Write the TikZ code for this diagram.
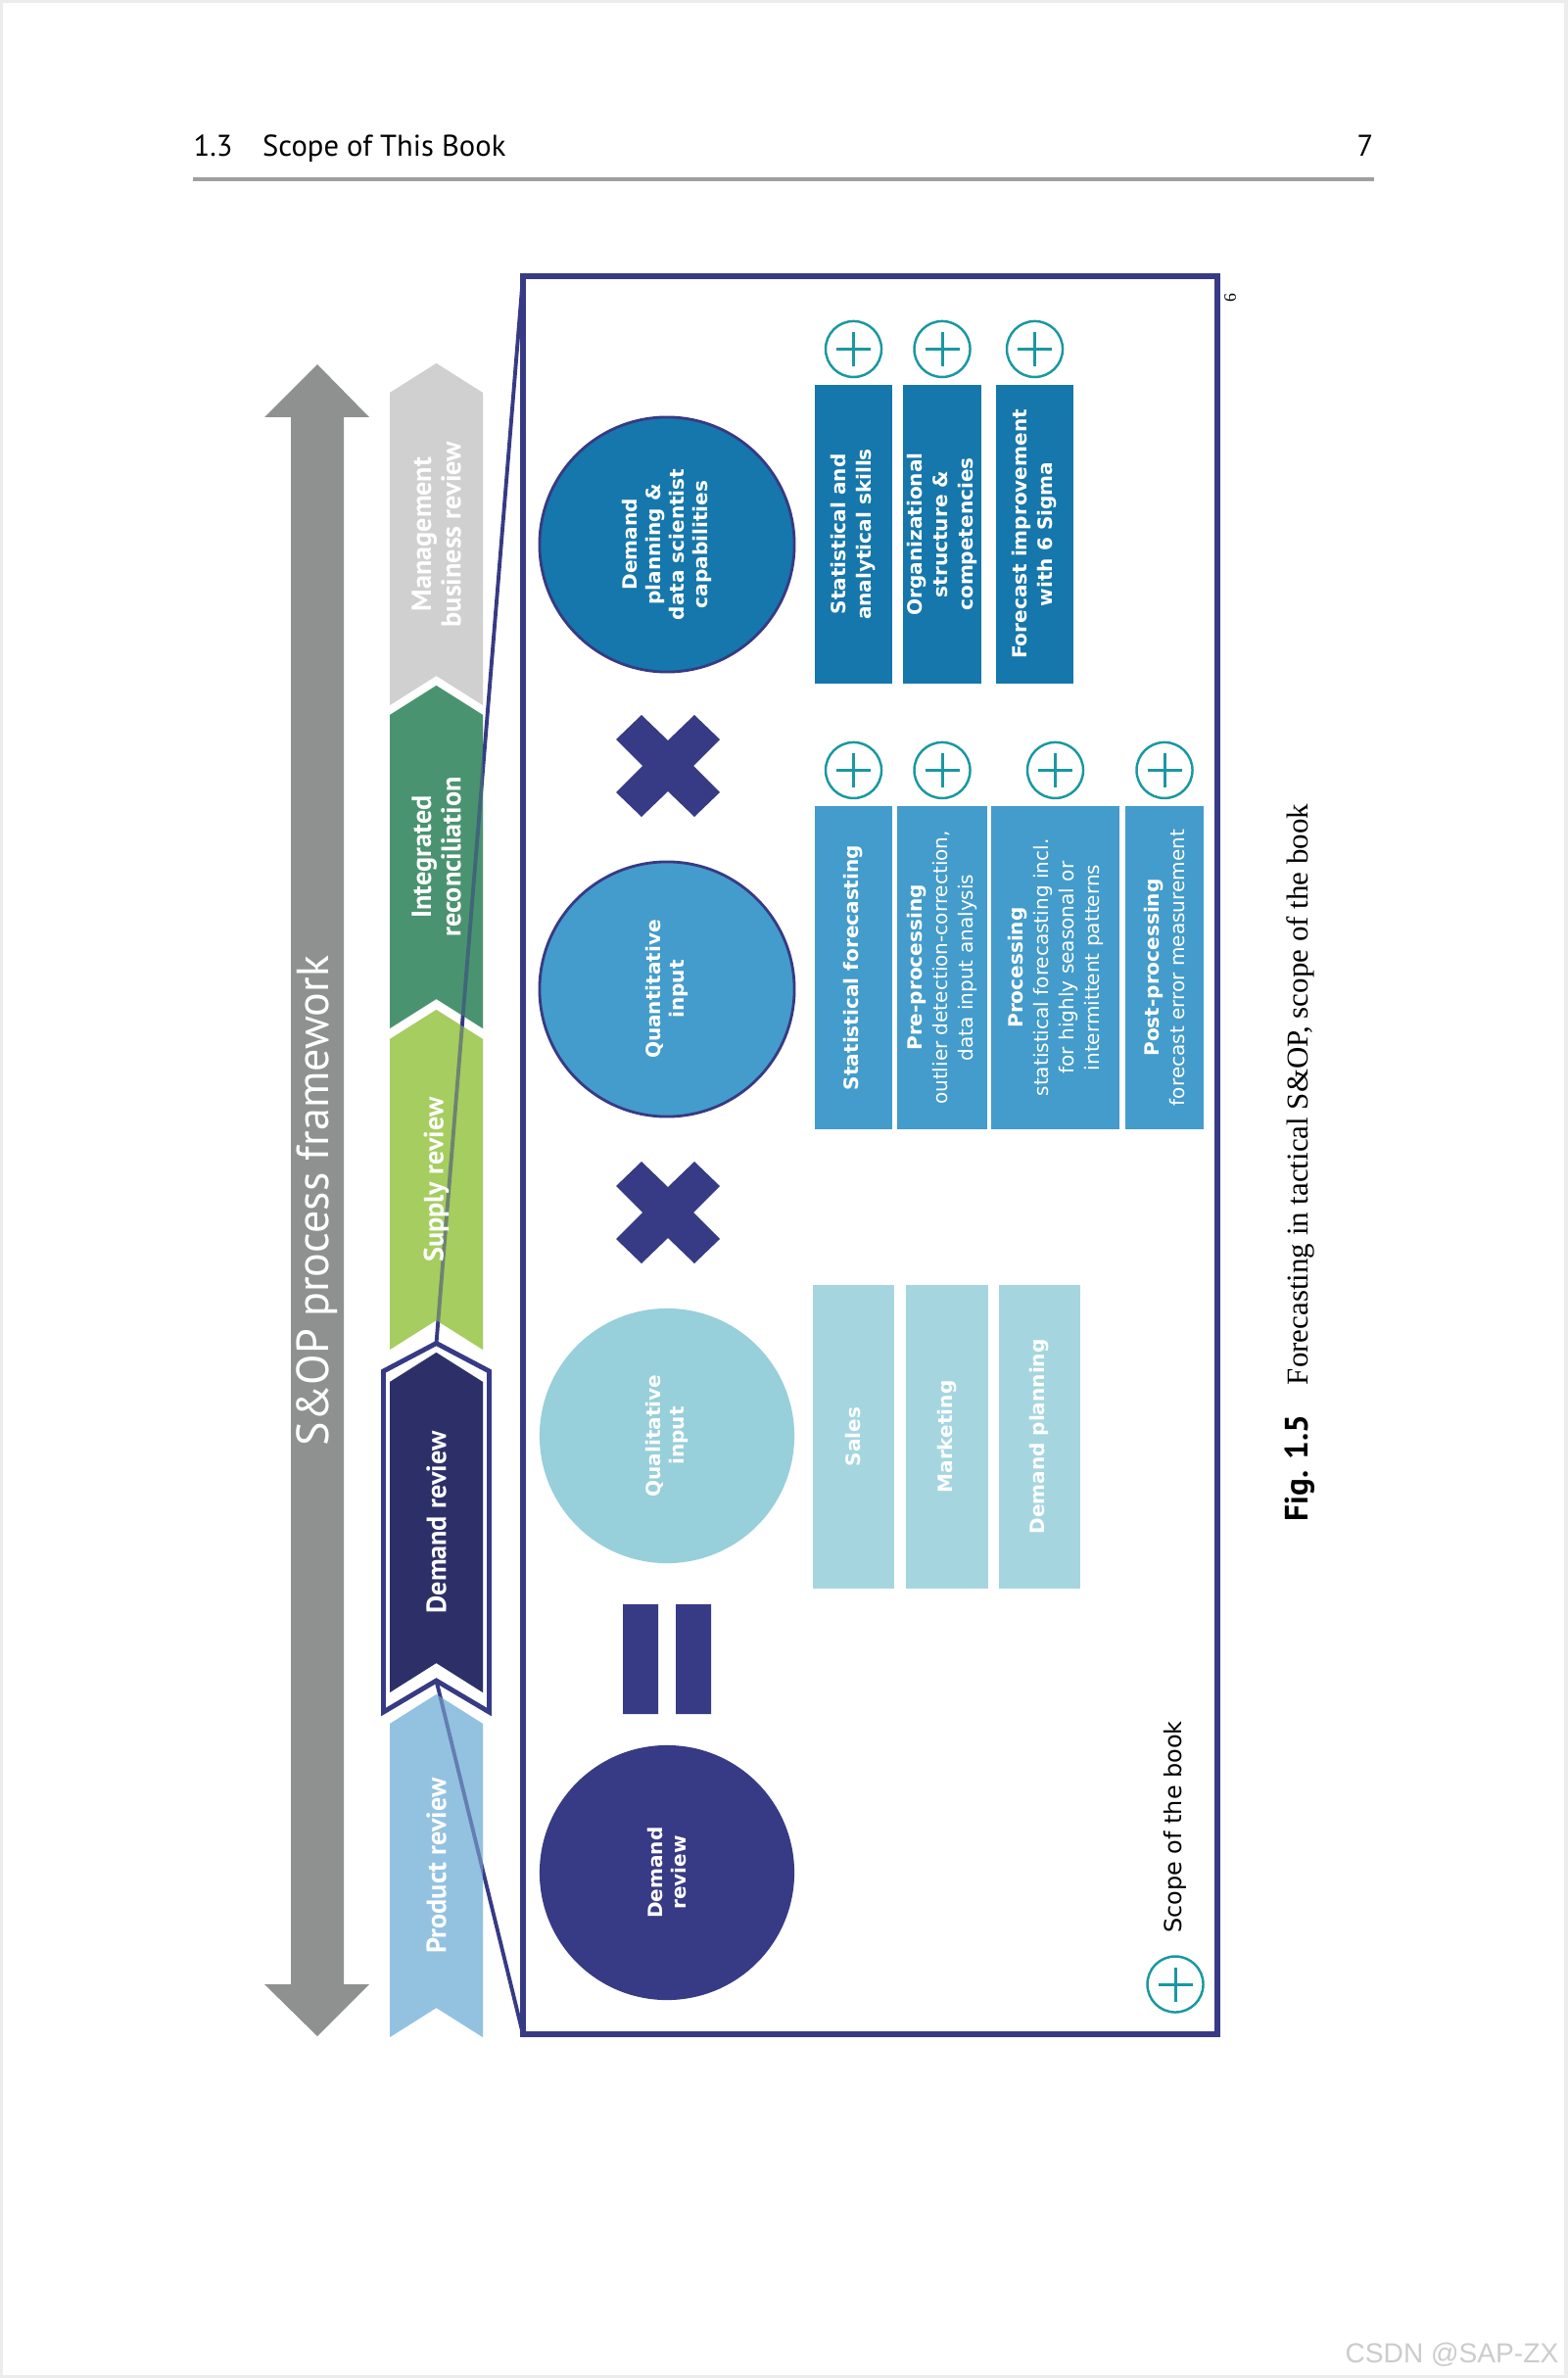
\documentclass[tikz,border=0pt]{standalone}
\usepackage{fontspec}
\setmainfont{DejaVu Sans}
\newfontfamily\hdfont{PT Sans}
\newfontfamily\capfont{Liberation Serif}
\newfontfamily\wmfont{Liberation Sans}
\usetikzlibrary{positioning}

\definecolor{sopnavy}{HTML}{373A84}
\definecolor{drnavy}{HTML}{2D3068}
\definecolor{arrowgray}{HTML}{8F9191}
\definecolor{mgmtgray}{HTML}{D0D0D0}
\definecolor{intgreen}{HTML}{4A9370}
\definecolor{supgreen}{HTML}{A5CD5F}
\definecolor{prodblue}{HTML}{93C2E1}
\definecolor{qlcol}{HTML}{97CFDA}
\definecolor{qlboxcol}{HTML}{A5D6E0}
\definecolor{qtcol}{HTML}{439CCB}
\definecolor{dpcol}{HTML}{1577AB}
\definecolor{plusteal}{HTML}{1998A0}

\newcommand\boxfont{\fontsize{5.7}{7.4}\selectfont}
\newcommand\ballfont{\bfseries\fontsize{5.7}{6.8}\selectfont}
\newcommand\chevfont{\hdfont\bfseries\fontsize{8}{8.6}\selectfont}

\tikzset{
  ball/.style={circle, minimum size=2.6cm, inner sep=0pt, rotate=90, align=center,
    text=white, font=\ballfont},
  txtbar/.style={rotate=90, inner sep=0pt, align=center, text=white, font=\boxfont},
  dpbar/.style={txtbar, fill=dpcol, font=\boxfont\bfseries, minimum width=3.05cm, minimum height=0.79cm},
  qtbar/.style={txtbar, fill=qtcol, minimum width=3.3cm},
  qlbar/.style={txtbar, fill=qlboxcol, font=\boxfont\bfseries, minimum width=3.1cm, minimum height=0.83cm},
  plusmark/.style={circle, draw=plusteal, line width=0.7pt, minimum size=0.57cm, inner sep=0pt,
    path picture={\draw[plusteal, line width=0.85pt]
      ([xshift=-0.175cm]path picture bounding box.center) -- ([xshift=0.175cm]path picture bounding box.center)
      ([yshift=-0.175cm]path picture bounding box.center) -- ([yshift=0.175cm]path picture bounding box.center);}},
  chevlabel/.style={rotate=90, align=center, text=white, font=\chevfont, inner sep=0pt},
  pics/times/.style={code={
    \fill[sopnavy] (-27,-52) -- (0,-26) -- (27,-52) -- (53,-27) -- (26,0) -- (53,27) -- (27,52)
      -- (0,26) -- (-27,52) -- (-53,27) -- (-26,0) -- (-53,-27) -- cycle;}}
}

\begin{document}
\begin{tikzpicture}[x=0.01cm, y=-0.01cm]
  \useasboundingbox (0,0) rectangle (1600,2428);
  \fill[white] (0,0) rectangle (1600,2428);
  \draw[gray!15, line width=1pt] (1,1) rectangle (1599,2427);

  % running head
  \node[anchor=base west, inner sep=0pt, font=\hdfont\fontsize{8.7}{10}\selectfont] (head) at (197,160) {1.3\quad Scope of This Book};
  \node[anchor=base east, inner sep=0pt, font=\hdfont\fontsize{8.7}{10}\selectfont] (pageno) at (1403,160) {7};
  \draw[gray!75, line width=1.1pt] (197,183) -- (1403,183);

  % S&OP arrow
  \fill[arrowgray] (324,372) -- (377,426) -- (351,426) -- (351,2026) -- (377,2026) -- (324,2079)
    -- (270,2026) -- (297,2026) -- (297,426) -- (270,426) -- cycle;
  \node[rotate=90, text=white, font=\hdfont\fontsize{13.1}{15}\selectfont] (sop) at (324,1226) {S\&OP process framework};

  % chevrons
  \foreach \t/\b/\c in {371/720/mgmtgray, 700/1050/intgreen, 1031/1378/supgreen, 1381/1728/drnavy, 1730/2080/prodblue}
    \fill[\c] (398,\t+30) -- (445.5,\t) -- (493,\t+30) -- (493,\b) -- (445.5,\b-30) -- (398,\b) -- cycle;
  \draw[sopnavy, line width=1.4pt] (391.5,1400) -- (445.5,1371.5) -- (499.5,1400) -- (499.5,1748)
    -- (445.5,1716) -- (391.5,1748) -- cycle;

  % scope of the book
  \coordinate (drtop) at (445.5,1371.5);
  \coordinate (drbot) at (445.5,1716);
  \coordinate (fnw) at (534,282);
  \coordinate (fse) at (1243,2077);
  \draw[sopnavy, line width=1.5pt] (fnw) rectangle (fse);
  \draw[sopnavy, line width=1.1pt] (drtop) -- (fnw) (drbot) -- (fnw |- fse);

  % lines seen through the chevrons
  \foreach \t/\b/\c/\n/\txt in {371/720/mgmtgray/mgmt/{Management\\business review},
      700/1050/intgreen/integ/{Integrated\\reconciliation}, 1031/1378/supgreen/supply/{Supply review},
      1381/1728/drnavy/demand/{Demand review}, 1730/2080/prodblue/product/{Product review}}{
    \fill[\c, fill opacity=0.5] (398,\t+30) -- (445.5,\t) -- (493,\t+30) -- (493,\b) -- (445.5,\b-30) -- (398,\b) -- cycle;
    \node[chevlabel] (\n) at (445.5,{(\t+\b)/2}) {\txt};
  }

  % circles
  \node[ball, fill=sopnavy] (dr) at (681,1912) {Demand\\review};
  \node[ball, fill=qlcol] (ql) at (681,1466) {Qualitative\\input};
  \node[ball, fill=qtcol, draw=sopnavy, line width=0.8pt] (qt) at (681,1010) {Quantitative\\input};
  \node[ball, fill=dpcol, draw=sopnavy, line width=0.8pt] (dp) at (681,556) {Demand\\planning \&\\data scientist\\capabilities};

  % operators
  \fill[sopnavy] (636,1638) rectangle (672,1750) (690,1638) rectangle (726,1750);
  \pic at (682,1238) {times};
  \pic at (682,782) {times};

  % bars
  \node[dpbar] (skills) at (871.5,545.5) {Statistical and\\analytical skills};
  \node[dpbar] (orga) at (962,545.5) {Organizational\\structure \&\\competencies};
  \node[dpbar] (sigma) at (1056.5,545.5) {Forecast improvement\\with 6 Sigma};

  \node[qtbar, minimum height=0.79cm] (statfc) at (871.5,988) {\textbf{Statistical forecasting}};
  \node[qtbar, minimum height=0.92cm] (preproc) at (962,988) {\textbf{Pre-processing}\\outlier detection-correction,\\data input analysis};
  \node[qtbar, minimum height=1.31cm] (proc) at (1077.5,988) {\textbf{Processing}\\statistical forecasting incl.\\for highly seasonal or\\intermittent patterns};
  \node[qtbar, minimum height=0.8cm] (postproc) at (1189,988) {\textbf{Post-processing}\\forecast error measurement};

  \node[qlbar] (sales) at (871.5,1467) {Sales};
  \node[qlbar] (mkt) at (967,1467) {Marketing};
  \node[qlbar] (dplan) at (1061.5,1467) {Demand planning};

  \foreach \b in {skills,orga,sigma,statfc,preproc,proc,postproc}
    \node[plusmark, above=0.06cm of \b.east] (plus-\b) {};

  % legend
  \node[plusmark] (legplus) at (1200,2026) {};
  \node[rotate=90, anchor=west, inner sep=0pt, font=\fontsize{6.8}{8}\selectfont] (legtxt) at ([yshift=0.22cm]legplus.north) {Scope of the book};

  % caption
  \node[rotate=90, anchor=base west, inner sep=0pt, font=\capfont\fontsize{8.8}{11}\selectfont] (caption) at (1335,1554)
    {{\hdfont\bfseries\fontsize{9.4}{11}\selectfont Fig. 1.5}\quad Forecasting in tactical S\&OP, scope of the book};
  \node[rotate=90, inner sep=0pt, font=\capfont\fontsize{5}{6}\selectfont] (figno) at (1256,304) {6};

  \node[anchor=base east, inner sep=0pt, text=gray!40, font=\wmfont\fontsize{8}{9}\selectfont] (wm) at (1592,2412) {CSDN @SAP-ZX};
\end{tikzpicture}
\end{document}
